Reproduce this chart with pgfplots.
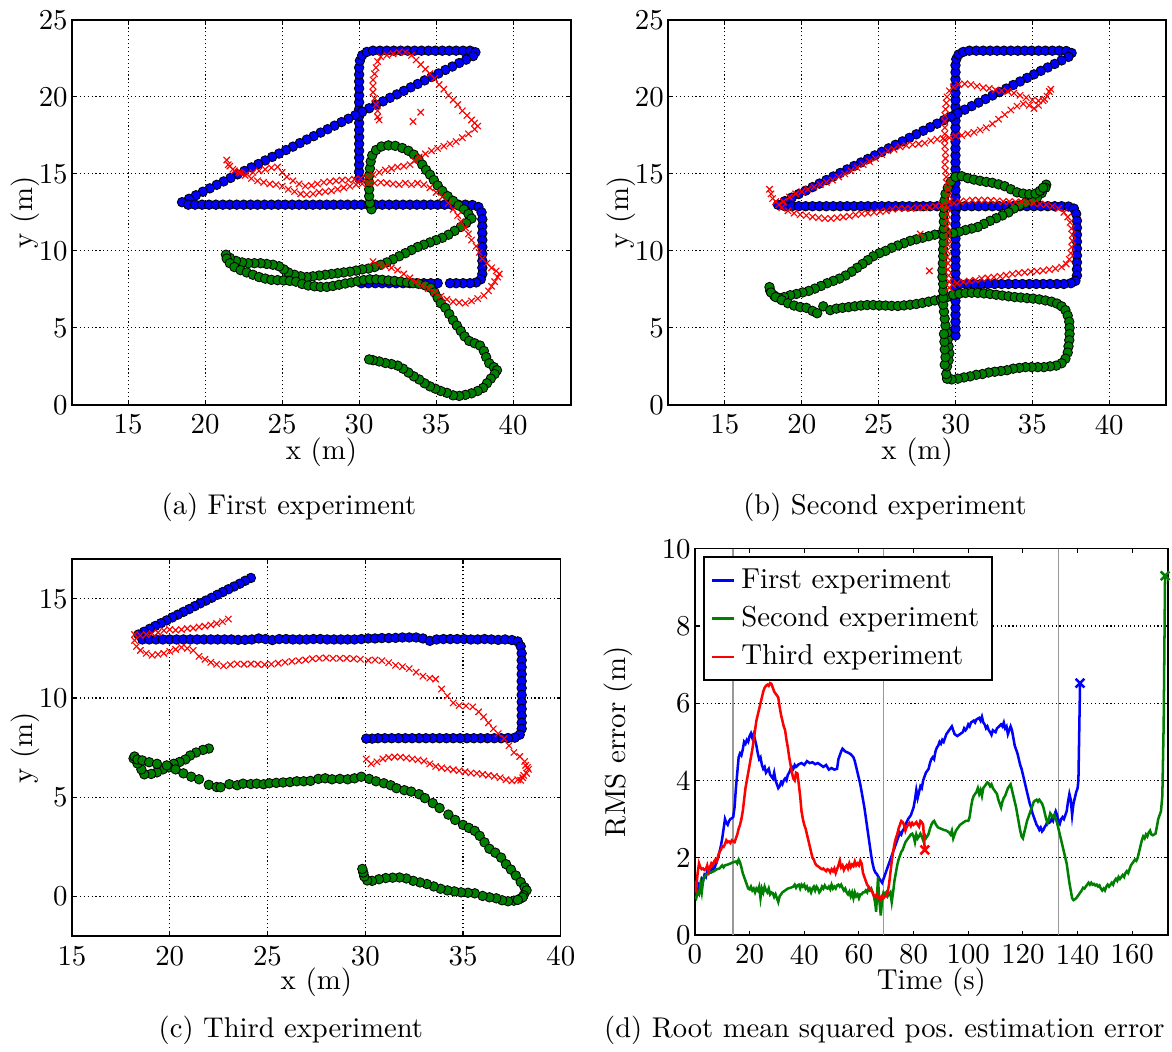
\documentclass[border=0pt]{standalone}
\usepackage{fontspec}
\usepackage{pgfplots}
\pgfplotsset{compat=1.18}
\definecolor{mblue}{RGB}{0,0,255}
\definecolor{mgreen}{RGB}{0,128,0}
\definecolor{mred}{RGB}{255,0,0}
\newcommand\fs{\fontsize{10.3pt}{12.4pt}\selectfont}
\newcommand\cs{\fontsize{10.2pt}{12.2pt}\selectfont}
\pgfplotsset{
  common/.style={
    scale only axis, enlargelimits=false, anchor=south west,
    /pgf/number format/assume math mode=true,
    grid style={densely dotted, black, line width=0.4pt},
    tick align=inside, major tick length=1.5pt,
    axis line style={line width=0.5pt}, tick style={black, line width=0.4pt},
    every tick label/.append style={font=\fs}, label style={font=\fs},
    yticklabel style={xshift=2pt},
    every axis x label/.style={at={(axis description cs:0.5,-0.123)}, anchor=center},
  },
  traj/.style={common, grid=major, xlabel={x (m)}, ylabel={y (m)},
    every axis y label/.style={at={(axis description cs:-0.094,0.5)}, rotate=90, anchor=center},
  },
  gt/.style={only marks, mark=*, mark size=1.7pt, mark options={fill=mblue, draw=black, line width=0.3pt}},
  gr/.style={only marks, mark=*, mark size=1.7pt, mark options={fill=mgreen, draw=black, line width=0.3pt}},
  rx/.style={only marks, mark=x, mark size=1.6pt, mark options={draw=mred, line width=0.4pt}},
}
\begin{document}
\begin{tikzpicture}[font=\fs]
\useasboundingbox (0,0) rectangle (418.6pt,-375.4pt);

% ---------- (a) first experiment
\begin{axis}[traj, at={(25.7pt,-144.6pt)}, width=178.2pt, height=137.5pt,
  xmin=11.35, xmax=43.75, ymin=0, ymax=25, xtick={15,20,...,40}, ytick={0,5,...,25}]
\addplot[gt] coordinates {
(30,14.7) (30,15.15) (30,15.6) (30,16.05) (30,16.5) (30,16.95) (30,17.4) (30,17.85) (30,18.3) (30,18.75) (30,19.2) (30,19.65) (30,20.1) (30,20.55) (30,21) (30,21.45) (30,21.9) (30.05,22.35) (30.2,22.7) (30.5,22.92) (30.9,23) (31.35,23) (31.8,23) (32.25,23) (32.7,23) (33.15,23) (33.6,23) (34.05,23) (34.5,23) (34.95,23) (35.4,23) (35.85,23) (36.3,23) (36.75,23) (37.2,23) (37.55,22.9)
(37.4,22.65) (36.95,22.42) (36.5,22.2) (36.05,21.97) (35.6,21.75) (35.15,21.52) (34.7,21.29) (34.25,21.07) (33.8,20.84) (33.35,20.62) (32.9,20.39) (32.45,20.16) (32,19.94) (31.55,19.71) (31.1,19.49) (30.65,19.26) (30.2,19.03) (29.75,18.81) (29.3,18.58) (28.85,18.36) (28.4,18.13) (27.95,17.9) (27.5,17.68) (27.05,17.45) (26.6,17.23) (26.15,17) (25.7,16.77) (25.25,16.55) (24.8,16.32) (24.35,16.1) (23.9,15.87) (23.45,15.64) (23,15.42) (22.55,15.19) (22.1,14.97) (21.65,14.74) (21.2,14.51) (20.75,14.29) (20.3,14.06) (19.85,13.84) (19.4,13.61) (18.95,13.38) (18.5,13.16)
(18.9,13) (19.35,13) (19.8,13) (20.25,13) (20.7,13) (21.15,13) (21.6,13) (22.05,13) (22.5,13) (22.95,13) (23.4,13) (23.85,13) (24.3,13) (24.75,13) (25.2,13) (25.65,13) (26.1,13) (26.55,13) (27,13) (27.45,13) (27.9,13) (28.35,13) (28.8,13) (29.25,13) (29.7,13) (30.15,13) (30.6,13) (31.05,13) (31.5,13) (31.95,13) (32.4,13) (32.85,13) (33.3,13) (33.75,13) (34.2,13) (34.65,13) (35.1,13) (35.55,13) (36,13) (36.45,13) (36.9,13) (37.35,12.98) (37.75,12.85) (37.95,12.5)
(38,12.05) (38,11.6) (38,11.15) (38,10.7) (38,10.25) (38,9.8) (38,9.35) (38,8.9) (38,8.5) (37.9,8.15) (37.6,7.95) (37.2,7.9) (36.75,7.9) (36.3,7.9) (35.9,7.9)
(35.1,7.9) (34.65,7.9) (34.2,7.9) (33.75,7.9) (33.3,7.9) (32.85,7.9) (32.4,7.9) (31.95,7.9) (31.5,7.9) (31.05,7.9) (30.6,7.9) (30.15,7.9)
};
\addplot[gr] coordinates {
(30.8,12.7) (30.7,13.1) (30.65,13.55) (30.65,14) (30.65,14.45) (30.65,14.9) (30.7,15.35) (30.75,15.8) (30.85,16.2) (31.1,16.55) (31.45,16.78) (31.9,16.85) (32.35,16.82) (32.8,16.68) (33.2,16.5) (33.55,16.25) (33.85,15.95) (34.1,15.6) (34.35,15.25) (34.6,14.95) (34.85,14.6) (35.1,14.25) (35.4,13.9) (35.75,13.55) (36.1,13.25) (36.45,12.95) (36.8,12.7) (37.1,12.4) (37.3,12.1)
(36.95,11.8) (36.6,11.55) (36.2,11.3) (35.8,11.05) (35.4,10.85) (35,10.7) (34.6,10.55) (34.2,10.4) (33.8,10.25) (33.4,10.05) (33,9.85) (32.6,9.65) (32.2,9.45) (31.8,9.25) (31.4,9.1) (31,8.95) (30.6,8.85) (30.2,8.8) (29.8,8.72) (29.4,8.65) (29,8.6) (28.6,8.55) (28.2,8.5) (27.8,8.45) (27.4,8.4) (27,8.35) (26.6,8.3) (26.2,8.35) (25.8,8.45) (25.4,8.6) (25.1,8.8) (24.8,9) (24.4,9.1) (24,9.15) (23.6,9.2) (23.2,9.2) (22.8,9.2) (22.4,9.25) (22,9.35) (21.6,9.55) (21.35,9.75)
(21.4,9.5) (21.6,9.2) (21.9,8.95) (22.3,8.75) (22.7,8.6) (23.1,8.45) (23.5,8.3) (23.9,8.2) (24.3,8.12) (24.7,8.1) (25.1,8.08) (25.5,8.05) (25.9,8) (26.3,7.85) (26.7,7.75) (27.1,7.7) (27.5,7.66) (27.9,7.66) (28.3,7.72) (28.7,7.8) (29.1,7.88) (29.5,7.95) (29.9,8.03) (30.3,8.1) (30.7,8.15) (31.1,8.15) (31.5,8.12) (31.9,8.08) (32.3,8.05) (32.7,8) (33.1,7.95) (33.5,7.9) (33.9,7.85) (34.3,7.75) (34.65,7.6) (34.9,7.3) (35.1,6.95) (35.3,6.6) (35.6,6.3) (35.85,5.9) (36.1,5.5) (36.35,5.15) (36.6,4.8) (36.85,4.45) (37.15,4.15) (37.5,4) (37.85,3.85) (38.1,3.5) (38.25,3.1) (38.45,2.7) (38.75,2.45) (38.95,2.25) (38.8,2) (38.55,1.7) (38.3,1.4) (38.05,1.1) (37.7,0.9) (37.3,0.75) (36.9,0.65) (36.5,0.58) (36.1,0.62) (35.7,0.78) (35.3,0.9) (34.95,1.05) (34.6,1.2) (34.25,1.4) (33.9,1.65) (33.55,1.85) (33.2,2.1) (32.85,2.35) (32.5,2.55) (32.1,2.65) (31.7,2.72) (31.3,2.82) (30.9,2.9) (30.65,2.95)
};
\addplot[rx] coordinates {
(30.9,9.3) (31.3,9.1) (31.7,9) (32.1,8.9) (32.5,8.75) (32.9,8.5) (33.3,8.25) (33.7,8) (34.1,7.75) (34.5,7.55) (34.9,7.3) (35.3,7.05) (35.7,6.85) (36.1,6.7) (36.5,6.65) (36.9,6.6) (37.3,6.75) (37.7,6.9) (38.1,7.1) (38.4,7.4) (38.6,7.7) (38.8,8) (39,8.3) (39.1,8.5) (38.9,8.7) (38.6,8.9) (38.3,9.2) (38,9.5) (37.8,9.9) (37.6,10.3) (37.3,10.7) (37.1,11.1) (36.9,11.5) (36.6,11.9) (36.4,12.3) (36.1,12.7) (35.8,13.1) (35.4,13.5) (35,13.8) (34.6,14.1) (34.2,14.3) (33.8,14.4) (33.4,14.3) (33,14.4) (32.6,14.3) (32.2,14.35) (31.8,14.4) (31.4,14.45) (31,14.4) (30.6,14.4) (30.2,14.35) (29.8,14.3) (29.4,14.2) (29,14.1) (28.6,14) (28.2,13.9) (27.8,13.85) (27.4,13.8) (27,13.7) (26.6,13.65) (26.2,13.7) (25.8,13.85) (25.4,14) (25,14.2) (24.6,14.3) (24.2,14.35) (23.8,14.45) (23.4,14.55) (23,14.7) (22.6,14.9) (22.2,15.1) (21.8,15.3) (21.5,15.6) (21.4,15.9) (21.6,15.5) (21.9,15.2) (22.3,15.05) (22.7,15) (23.1,15.1) (23.5,15.2) (23.9,15.3) (24.3,15.4) (24.7,15.45) (25,15.1) (25.3,14.8) (25.7,14.55) (26.1,14.35) (26.5,14.2) (26.9,14.25) (27.3,14.35) (27.7,14.45) (28.1,14.5) (28.5,14.55) (28.9,14.6) (29.3,14.6) (29.7,14.65) (30.1,14.7) (30.5,14.8) (30.9,14.95) (31.3,15.1) (31.7,15.25) (32.1,15.35) (32.5,15.45) (32.9,15.5) (33.3,15.6) (33.6,15.85) (33.9,16.1) (34.3,16.3) (34.7,16.5) (35.1,16.65) (35.5,16.8) (35.9,16.95) (36.3,17.1) (36.7,17.35) (37.1,17.6) (37.5,17.9) (37.7,18.1) (37.5,18.3) (37.3,18.5) (37,18.8) (36.7,19.1) (36.4,19.5) (36.1,19.8) (35.8,20.1) (35.5,20.5) (35.2,20.8) (34.9,21.2) (34.6,21.5) (34.3,21.8) (34,22.1) (33.7,22.4) (33.4,22.7) (33,22.9) (32.6,22.9) (32.2,22.8) (31.8,22.7) (31.4,22.6) (31.2,22.3) (31.1,21.9) (31,21.5) (30.9,21.1) (30.9,20.7) (30.9,20.3) (31,19.9) (31.1,19.5) (31.2,19.1) (31.2,18.7) (31.3,18.5) (33.5,18.4) (34,19)
};
\end{axis}

% ---------- (b) second experiment
\begin{axis}[traj, at={(238.6pt,-144.6pt)}, width=177.9pt, height=137.5pt,
  xmin=11.3, xmax=43.7, ymin=0, ymax=25, xtick={15,20,...,40}, ytick={0,5,...,25}]
\addplot[gt] coordinates {
(30,4.5) (30,4.95) (30,5.4) (30,5.85) (30,6.3) (30,6.75) (30,7.2) (30,7.65) (30,8.1) (30,8.55) (30,9) (30,9.45) (30,9.9) (30,10.35) (30,10.8) (30,11.25) (30,11.7) (30,12.15) (30,12.6) (30,13.05) (30,13.5) (30,13.95) (30,14.4) (30,14.85) (30,15.3) (30,15.75) (30,16.2) (30,16.65) (30,17.1) (30,17.55) (30,18) (30,18.45) (30,18.9) (30,19.35) (30,19.8) (30,20.25) (30,20.7) (30,21.15) (30,21.6) (30,22.05) (30.05,22.45) (30.2,22.75) (30.5,22.92) (30.9,23) (31.35,23) (31.8,23) (32.25,23) (32.7,23) (33.15,23) (33.6,23) (34.05,23) (34.5,23) (34.95,23) (35.4,23) (35.85,23) (36.3,23) (36.75,23) (37.2,22.98) (37.55,22.85)
(37.35,22.6) (36.9,22.37) (36.45,22.14) (36,21.91) (35.55,21.69) (35.1,21.46) (34.65,21.23) (34.2,21) (33.75,20.77) (33.3,20.54) (32.85,20.31) (32.4,20.09) (31.95,19.86) (31.5,19.63) (31.05,19.4) (30.6,19.17) (30.15,18.94) (29.7,18.71) (29.25,18.49) (28.8,18.26) (28.35,18.03) (27.9,17.8) (27.45,17.57) (27,17.34) (26.55,17.11) (26.1,16.89) (25.65,16.66) (25.2,16.43) (24.75,16.2) (24.3,15.97) (23.85,15.74) (23.4,15.51) (22.95,15.29) (22.5,15.06) (22.05,14.83) (21.6,14.6) (21.15,14.37) (20.7,14.14) (20.25,13.91) (19.8,13.69) (19.35,13.46) (18.9,13.23) (18.45,13)
(18.9,12.9) (19.35,12.9) (19.8,12.9) (20.25,12.9) (20.7,12.9) (21.15,12.9) (21.6,12.9) (22.05,12.9) (22.5,12.9) (22.95,12.9) (23.4,12.9) (23.85,12.9) (24.3,12.9) (24.75,12.9) (25.2,12.9) (25.65,12.9) (26.1,12.9) (26.55,12.9) (27,12.9) (27.45,12.9) (27.9,12.9) (28.35,12.9) (28.8,12.9) (29.25,12.9) (29.7,12.9) (30.15,12.9) (30.6,12.9) (31.05,12.9) (31.5,12.9) (31.95,12.9) (32.4,12.9) (32.85,12.9) (33.3,12.9) (33.75,12.9) (34.2,12.9) (34.65,12.9) (35.1,12.9) (35.55,12.9) (36,12.9) (36.45,12.9) (36.9,12.9) (37.35,12.88) (37.7,12.75) (37.85,12.4)
(37.9,11.95) (37.9,11.5) (37.9,11.05) (37.9,10.6) (37.9,10.15) (37.9,9.7) (37.9,9.25) (37.9,8.8) (37.9,8.4) (37.8,8.05) (37.5,7.9) (37.05,7.85) (36.6,7.85) (36.15,7.85) (35.7,7.85) (35.25,7.85) (34.8,7.85) (34.35,7.85) (33.9,7.85) (33.45,7.85) (33,7.85) (32.55,7.85) (32.1,7.85) (31.65,7.85) (31.2,7.85) (30.75,7.85) (30.3,7.85)
};
\addplot[gr] coordinates {
(35.9,14.3) (35.85,14.1) (35.6,13.75) (35.3,13.45) (34.95,13.25) (34.55,13.1) (34.15,12.95) (33.8,12.75) (33.45,12.5) (33.05,12.3) (32.65,12.12) (32.25,11.95) (31.85,11.75) (31.45,11.55) (31.05,11.45) (30.65,11.35) (30.25,11.25) (29.85,11.15) (29.45,11.12) (29.05,11.1) (28.65,11.05) (28.25,10.95) (27.85,10.85) (27.45,10.75) (27.05,10.65) (26.65,10.5) (26.25,10.35) (25.85,10.2) (25.45,10) (25.05,9.85) (24.65,9.65) (24.3,9.4) (23.95,9.15) (23.6,8.9) (23.25,8.65) (22.85,8.4) (22.45,8.2) (22.05,8.05) (21.65,7.9) (21.25,7.72) (20.85,7.55) (20.45,7.4) (20.05,7.3) (19.65,7.2) (19.25,7.12) (18.85,7) (18.5,6.95) (18.2,7.1) (17.95,7.4) (17.9,7.65)
(18,7.3) (18.3,7) (18.7,6.8) (19.1,6.6) (19.5,6.45) (19.9,6.35) (20.3,6.3) (20.7,6.1) (21,5.95) (21.4,6.4) (21.85,6.15) (22.25,6.25) (22.65,6.3) (23.05,6.35) (23.45,6.4) (23.85,6.45) (24.25,6.48) (24.65,6.48) (25.05,6.46) (25.45,6.45) (25.85,6.43) (26.25,6.42) (26.65,6.46) (27.05,6.5) (27.45,6.55) (27.85,6.62) (28.25,6.7) (28.65,6.78) (29.05,6.87) (29.45,7) (29.85,7.15) (30.25,7.22) (30.65,7.27) (31.05,7.28) (31.45,7.27) (31.85,7.24) (32.25,7.2) (32.65,7.15) (33.05,7.1) (33.45,7.05) (33.85,7) (34.25,6.97) (34.65,6.93) (35.05,6.9) (35.45,6.85) (35.85,6.78) (36.25,6.7) (36.6,6.58) (36.9,6.4) (37.15,6.15) (37.3,5.8) (37.4,5.4) (37.42,5) (37.42,4.6) (37.4,4.2) (37.35,3.8) (37.3,3.4) (37.15,3) (36.9,2.7) (36.55,2.55) (36.15,2.5) (35.75,2.45) (35.35,2.45) (34.95,2.45) (34.55,2.45) (34.15,2.4) (33.75,2.35) (33.35,2.25) (32.95,2.2) (32.55,2.15) (32.15,2.1) (31.75,2) (31.35,1.95) (30.95,1.85) (30.55,1.78) (30.15,1.7) (29.75,1.65) (29.45,1.7)
(29.4,2) (29.45,2.5) (29.55,2.9) (29.6,3.35) (29.55,3.8) (29.5,4.25) (29.45,4.7) (29.35,5.15) (29.3,5.6) (29.25,6.05) (29.2,6.5) (29.2,6.95) (29.2,7.4) (29.2,7.85) (29.15,8.3) (29.15,8.75) (29.18,9.2) (29.2,9.65) (29.2,10.1) (29.22,10.55) (29.24,11) (29.24,11.45) (29.24,11.9) (29.24,12.35) (29.25,12.8) (29.28,13.25) (29.35,13.7) (29.5,14.1) (29.7,14.5) (30,14.8) (30.4,14.85) (30.8,14.72) (31.2,14.63) (31.6,14.55) (32,14.48) (32.4,14.42) (32.8,14.32) (33.2,14.2) (33.6,14) (34,13.8) (34.4,13.72) (34.8,13.68) (35.2,13.72) (35.5,13.9) (35.7,14.1)
(29.3,2.6) (29.35,3.1) (29.3,3.6) (29.28,4.1) (29.25,4.6)
};
\addplot[rx] coordinates {
(17.9,14) (18,13.7) (18.1,13.4) (18.3,13.2) (18.5,13)
(18.8,13.2) (19.2,13.5) (19.6,13.7) (20,13.85) (20.4,14) (20.8,14.15) (21.2,14.3) (21.6,14.45) (22,14.6) (22.4,14.8) (22.8,15) (23.2,15.2) (23.6,15.4) (24,15.6) (24.4,15.8) (24.8,16) (25.2,16.25) (25.6,16.5) (26,16.6) (26.4,16.75) (26.8,16.85) (27.2,16.9) (27.6,16.95) (28,17) (28.4,17.15) (28.8,17.25) (29.2,17.3) (29.6,17.35) (30,17.45) (30.4,17.5) (30.8,17.6) (31.2,17.7) (31.6,17.85) (32,18) (32.4,18.25) (32.8,18.55) (33.2,18.85) (33.6,19.15) (34,19.4) (34.4,19.55) (34.8,19.45) (35.1,19.25) (35.4,19.45) (35.7,19.75) (35.95,20.05) (36.1,20.35) (36.2,20.5)
(35.8,19.85) (35.4,19.75) (35,19.8) (34.6,19.95) (34.2,20.1) (33.8,20.25) (33.4,20.35) (33,20.4) (32.6,20.45) (32.2,20.55) (31.8,20.6) (31.4,20.7) (31,20.8) (30.6,20.85) (30.2,20.8) (29.85,20.65) (29.6,20.4) (29.45,20)
(29.4,19.6) (29.35,19.2) (29.3,18.8) (29.3,18.4) (29.3,18) (29.3,17.6) (29.3,17.2) (29.3,16.8) (29.35,16.4) (29.35,16) (29.3,15.6) (29.35,15.2) (29.4,14.8) (29.45,14.4) (29.5,14) (29.55,13.6) (29.6,13.2) (29.5,12.8) (29.45,12.4) (29.45,12) (29.45,11.6) (29.5,11.2) (29.5,10.8) (29.5,10.4) (29.45,10) (29.45,9.6) (29.5,9.2) (29.5,8.8) (29.55,8.4) (29.6,8) (29.6,7.6)
(18.7,12.8) (19.1,12.6) (19.5,12.45) (19.9,12.35) (20.3,12.3) (20.7,12.2) (21.1,12.15) (21.5,12.1) (21.9,12.1) (22.3,12.15) (22.7,12.2) (23.1,12.25) (23.5,12.35) (23.9,12.4) (24.3,12.45) (24.7,12.5) (25.1,12.55) (25.5,12.6) (25.9,12.7) (26.3,12.75) (26.7,12.75) (27.1,12.75) (27.5,12.8) (27.9,12.8) (28.3,12.85) (28.7,12.9) (29.1,12.95) (29.9,13.1) (30.3,13.2) (30.7,13.25) (31.1,13.3) (31.5,13.3) (31.9,13.3) (32.3,13.28) (32.7,13.25) (33.1,13.2) (33.5,13.2) (33.9,13.18) (34.3,13.18) (34.7,13.15) (35.1,13.1) (35.5,13.05) (35.9,13) (36.3,12.9) (36.7,12.75) (37.05,12.5) (37.3,12.2) (37.45,11.85) (37.55,11.45) (37.6,11.05) (37.6,10.65) (37.55,10.25) (37.5,9.85) (37.4,9.45) (37.2,9.15) (36.9,8.95) (36.5,8.85) (36.1,8.78) (35.7,8.72) (35.3,8.68) (34.9,8.65) (34.5,8.6) (34.1,8.56) (33.7,8.5) (33.3,8.42) (32.9,8.35) (32.5,8.3) (32.1,8.25) (31.7,8.2) (31.3,8.1) (30.9,8.05) (30.5,7.98) (30.1,7.9) (29.8,7.8)
(27.7,11.1) (28.3,8.7)
};
\end{axis}

% ---------- (c) third experiment
\begin{axis}[traj, at={(25.7pt,-334.3pt)}, width=174.6pt, height=134.6pt,
  every axis y label/.style={at={(axis description cs:-0.096,0.5)}, rotate=90, anchor=center},
  xmin=15, xmax=40, ymin=-2, ymax=17, xtick={15,20,...,40}, ytick={0,5,10,15}]
\addplot[gt] coordinates {
(24.15,16.05) (23.86,15.91) (23.58,15.76) (23.29,15.62) (23,15.48) (22.71,15.34) (22.43,15.2) (22.14,15.05) (21.85,14.91) (21.56,14.77) (21.28,14.63) (20.99,14.48) (20.7,14.34) (20.41,14.2) (20.13,14.06) (19.84,13.91) (19.55,13.77) (19.26,13.63) (18.98,13.49) (18.69,13.34) (18.4,13.2)
(18.6,12.95) (18.95,12.95) (19.3,12.95) (19.65,12.95) (20,12.95) (20.35,12.95) (20.7,12.95) (21.05,12.95) (21.4,12.95) (21.75,12.95) (22.1,12.95) (22.45,12.95) (22.8,12.95) (23.15,12.95) (23.5,12.93) (23.85,12.93) (24.2,12.95) (24.55,13) (24.9,12.97) (25.25,12.92) (25.6,12.97) (25.95,12.97) (26.3,12.95) (26.65,12.95) (27,12.95) (27.35,12.97) (27.7,12.97) (28.05,12.95) (28.4,12.95) (28.75,12.95) (29.1,12.95) (29.45,12.95) (29.8,12.97) (30.15,13) (30.5,13) (30.85,13.02) (31.2,13.02) (31.55,13.03) (31.9,13.05) (32.25,13.05) (32.6,13.05) (32.95,13) (33.3,12.88) (33.65,12.95) (34,12.97) (34.35,12.97) (34.7,12.97) (35.05,12.97) (35.4,12.95) (35.75,12.95) (36.1,12.97) (36.45,12.95) (36.8,12.93) (37.15,12.95) (37.5,12.92)
(37.8,12.85) (37.95,12.6) (38,12.25) (38,11.9) (38,11.55) (38,11.2) (38,10.85) (38,10.5) (38,10.15) (38,9.8) (38,9.45) (38,9.1) (38,8.75) (38,8.45) (37.9,8.15) (37.65,8) (37.3,7.98)
(36.95,7.97) (36.6,7.97) (36.25,7.97) (35.9,7.97) (35.55,7.97) (35.2,7.97) (34.85,7.97) (34.5,7.97) (34.15,7.97) (33.8,7.97) (33.45,7.97) (33.1,7.97) (32.75,7.97) (32.4,7.97) (32.05,7.97) (31.7,7.97) (31.35,7.97) (31,7.97) (30.65,7.97) (30.35,7.95) (30.05,7.95)
};
\addplot[gr] coordinates {
(22,7.45) (21.7,7.38) (21.35,7.25) (21.05,7.1) (20.8,6.9) (20.5,6.77) (20.2,6.68) (19.95,6.5) (19.65,6.4) (19.35,6.25) (19.05,6.17) (18.7,6.15) (18.55,6.4) (18.35,6.7) (18.15,6.95) (18.2,7.05) (18.35,6.9) (18.6,6.85) (18.95,6.76) (19.35,6.68) (19.85,6.6) (20.3,6.4) (20.7,6.2) (21.1,6.03) (21.5,5.9) (22,5.62) (22.4,5.51) (22.6,5.5) (23.05,5.65) (23.45,5.6) (23.75,5.68) (24.15,5.66) (24.45,5.68) (24.8,5.65) (25.1,5.7) (25.45,5.72) (25.8,5.74) (26.15,5.76) (26.5,5.8) (26.85,5.8) (27.2,5.82) (27.6,5.92) (27.95,5.95) (28.3,5.9) (28.7,5.92) (29.1,5.9) (29.45,5.95) (29.8,6.03) (30.2,5.92) (30.55,5.8) (30.95,5.7) (31.3,5.6) (31.6,5.45) (32,5.35) (32.35,5.28) (32.75,5.15) (33.05,4.95) (33.45,4.7) (33.8,4.45) (34.25,4.12) (34.6,3.85) (35,3.6) (35.3,3.45) (35.6,3.3) (35.85,3.05) (36.1,2.72) (36.35,2.4) (36.65,2.2) (36.95,1.95) (37.2,1.62) (37.45,1.35) (37.7,1.05) (37.95,0.72) (38.15,0.45) (38.25,0.3) (38.1,0.05) (37.9,-0.13) (37.6,-0.22) (37.3,-0.25) (37,-0.2) (36.7,-0.1) (36.35,-0.05) (36,0.02) (35.6,0.15) (35.25,0.18) (34.9,0.2) (34.55,0.25) (34.2,0.3) (33.85,0.38) (33.5,0.5) (33.15,0.62) (32.8,0.7) (32.45,0.78) (32.1,0.9) (31.75,0.95) (31.4,0.94) (31.05,0.92) (30.7,0.86) (30.35,0.78) (30.1,0.8) (29.95,1) (29.9,1.2) (29.85,1.38)
(38.05,-0.05) (37.8,-0.18)
};
\addplot[rx] coordinates {
(18.2,13.2) (18.5,13.15) (18.8,13.2) (19.1,13.25) (19.4,13.3) (19.7,13.4) (20,13.45) (20.3,13.42) (20.6,13.45) (20.9,13.5) (21.2,13.52) (21.5,13.58) (21.8,13.62) (22.1,13.68) (22.4,13.75) (22.7,13.85) (23,13.98)
(18.2,12.9) (18.3,12.6) (18.5,12.4) (18.8,12.25) (19.1,12.15) (19.4,12.2) (19.7,12.25) (20,12.35) (20.3,12.45) (20.6,12.55) (20.9,12.5) (21.2,12.4) (21.5,12.1) (21.8,11.95) (22.1,11.8) (22.4,11.7) (22.75,11.62) (23.1,11.68) (23.45,11.72) (23.8,11.7) (24.15,11.72) (24.5,11.7) (24.85,11.68) (25.2,11.7) (25.55,11.75) (25.9,11.8) (26.25,11.85) (26.6,11.88) (26.95,11.92) (27.3,11.98) (27.65,12) (28,12.02) (28.35,12) (28.7,12) (29.05,12) (29.4,11.98) (29.75,11.95) (30.15,11.9) (30.5,11.92) (30.85,11.88) (31.2,11.78) (31.55,11.65) (31.9,11.58) (32.25,11.48) (32.6,11.3) (32.95,11.1) (33.3,11) (33.6,10.95) (33.9,10.45) (34.2,10.1) (34.5,9.75) (34.8,9.62) (35.15,9.6) (35.5,9.55) (35.8,9.3) (36.05,9.05) (36.3,8.75) (36.55,8.45) (36.8,8.2) (37.1,7.95) (37.35,7.6) (37.6,7.25) (37.9,7.05) (38.15,6.8) (38.3,6.5) (38.25,6.2) (38.05,5.98) (37.8,5.88) (37.5,5.82) (37.2,5.88) (36.9,5.98) (36.6,6.05) (36.3,6.1) (36,6.15) (35.7,6.2) (35.4,6.22) (35.1,6.28) (34.8,6.33) (34.5,6.38) (34.2,6.43) (33.9,6.48) (33.6,6.55) (33.3,6.68) (33,6.82) (32.7,6.88) (32.4,6.93) (32.1,6.98) (31.8,7.02) (31.5,7.03) (31.2,7) (30.9,6.93) (30.6,6.78) (30.3,6.68) (30.05,6.92)
(38.35,6.4) (38.2,6.6) (38.1,6.1) (37.95,5.85)
};
\end{axis}

% ---------- (d) RMS error
\begin{axis}[common, at={(248.2pt,-333.9pt)}, width=168.9pt, height=137.9pt,
  xmin=0, xmax=173, ymin=0, ymax=10, xtick={0,20,...,160}, ytick={0,2,...,10},
  ymajorgrids, xlabel={Time (s)}, ylabel={RMS error (m)},
  every axis y label/.style={at={(axis description cs:-0.163,0.5)}, rotate=90, anchor=center},
  legend style={at={(axis cs:3,9.8)}, anchor=north west, draw=black, line width=0.5pt,
    font=\fs, cells={anchor=west}, row sep=1pt, inner xsep=2.5pt, inner ysep=2pt},
  legend image code/.code={\draw[#1] (0pt,0pt) -- (8pt,0pt);},
]
\addplot[black!40, line width=0.5pt, forget plot] coordinates {(14,0) (14,10)};
\addplot[black!40, line width=0.5pt, forget plot] coordinates {(69,0) (69,10)};
\addplot[black!40, line width=0.5pt, forget plot] coordinates {(133,0) (133,10)};
\addplot[mblue, line width=0.9pt] coordinates {
(0,1.2) (0.5,1.05) (1,1.1) (1.5,1.3) (2,1.25) (2.5,1.45) (3,1.4) (3.5,1.55) (4,1.5) (4.5,1.65) (5,1.6) (5.5,1.7) (6,1.65) (6.5,1.75) (7,1.7) (7.5,1.8) (8,1.9) (8.5,2) (9,2.15) (9.5,2.3) (10,2.5) (10.5,2.75) (11,3) (11.5,2.9) (12,2.85) (12.5,2.95) (13,3) (13.5,3.02) (14,3.05) (14.5,3.3) (15,3.8) (15.5,4.2) (16,4.6) (16.5,4.7) (17,4.65) (17.5,4.8) (18,5) (18.5,4.95) (19,5.05) (19.5,5) (20,5.15) (20.5,5.22) (21,5.1) (21.5,5.2) (22,5.05) (22.5,4.9) (23,4.7) (23.5,4.55) (24,4.6) (24.5,4.4) (25,4.3) (25.5,4.35) (26,4.2) (26.5,4.25) (27,4.3) (27.5,4.15) (28,4.1) (28.5,4.05) (29,4.2) (29.5,4) (30,3.9) (30.5,3.8) (31,3.85) (31.5,3.95) (32,3.9) (32.5,4) (33,4.05) (33.5,4) (34,4.15) (34.5,4.2) (35,4.3) (35.5,4.35) (36,4.3) (36.5,4.4) (37,4.35) (38,4.42) (39,4.45) (40,4.4) (41,4.5) (42,4.45) (43,4.47) (44,4.42) (45,4.45) (46,4.4) (47,4.35) (48,4.4) (49,4.28) (50,4.32) (51,4.28) (52,4.3) (52.5,4.55) (53,4.65) (53.5,4.75) (54,4.82) (55,4.75) (56,4.72) (57,4.68) (58,4.6) (58.5,4.5) (59,4.35) (59.5,4.2) (60,4.05) (60.5,3.9) (61,3.7) (61.5,3.5) (62,3.3) (62.5,3.05) (63,2.8) (63.5,2.55) (64,2.3) (64.5,2.05) (65,1.85) (65.5,1.7) (66,1.62) (66.5,1.58) (67,1.52) (67.5,1.45) (68,1.4) (68.5,1.35) (69,1.45) (69.5,1.55) (70,1.65) (70.5,1.75) (71,1.85) (71.5,1.95) (72,2.05) (72.5,2.15) (73,2.25) (73.5,2.35) (74,2.45) (74.5,2.55) (75,2.65) (75.5,2.6) (76,2.7) (76.5,2.75) (77,2.85) (78,3) (78.5,3.05) (79,3.1) (79.5,3.2) (80,3.3) (80.5,3.5) (81,3.75) (81.5,3.55) (82,3.7) (82.5,3.85) (83,3.8) (83.5,4) (84,4.1) (84.5,4.2) (85,4.25) (85.5,4.3) (86,4.45) (86.5,4.55) (87,4.6) (87.5,4.55) (88,4.75) (88.5,4.85) (89,4.9) (89.5,5) (90,4.95) (90.5,5.05) (91,5) (91.5,5.1) (92,5.2) (92.5,5.25) (93,5.3) (93.5,5.35) (94,5.4) (94.5,5.3) (95,5.2) (96,5.15) (97,5.2) (98,5.25) (98.5,5.35) (99,5.3) (99.5,5.35) (100,5.45) (100.5,5.4) (101,5.5) (102,5.55) (102.5,5.5) (103,5.58) (104,5.62) (104.5,5.55) (105,5.65) (105.5,5.5) (106,5.45) (106.5,5.35) (107,5.4) (107.5,5.3) (108,5.25) (108.5,5.18) (109,5.3) (110,5.25) (110.5,5.35) (111,5.38) (112,5.45) (112.5,5.4) (113,5.5) (113.5,5.35) (114,5.4) (114.5,5.2) (115,5.3) (115.5,5.4) (116,5.3) (116.5,5.1) (117,4.9) (117.5,4.8) (118,4.7) (118.5,4.55) (119,4.4) (119.5,4.3) (120,4.15) (120.5,4) (121,3.85) (121.5,3.7) (122,3.55) (122.5,3.4) (123,3.3) (123.5,3.15) (124,3.05) (124.5,2.95) (125,2.85) (125.5,2.8) (126,2.72) (126.5,2.78) (127,2.68) (127.5,2.72) (128,2.8) (128.5,2.85) (129,2.95) (129.5,2.9) (130,2.92) (130.5,3) (131,2.95) (131.5,3.1) (132,3.2) (132.5,3.1) (133,2.95) (133.5,2.88) (134,3) (134.5,3.05) (135,3) (135.5,3.1) (136,3.2) (136.5,3.45) (137,3.65) (137.5,3.5) (138,3.1) (138.5,3.4) (139,3.55) (139.5,3.7) (140,3.8) (140.3,4) (140.9,6.52)
};
\addlegendentry{First experiment}
\addplot[mgreen, line width=0.9pt] coordinates {
(0,1) (0.5,0.95) (1,1.1) (1.5,1.05) (2,1.3) (2.5,1.1) (3,1.4) (3.5,1.5) (4,1.55) (5,1.6) (6,1.62) (7,1.65) (8,1.7) (9,1.72) (10,1.8) (10.5,1.75) (11,1.8) (12,1.82) (13,1.85) (14,1.88) (15,1.9) (15.5,1.85) (16,1.95) (16.5,1.88) (17,1.75) (17.5,1.6) (18,1.5) (18.5,1.4) (19,1.3) (19.5,1.2) (20,1.18) (20.5,1.25) (21,1.15) (21.5,1.2) (22,1.1) (22.5,1.2) (23,1.15) (23.5,1.25) (24,0.95) (24.5,1.2) (25,1.1) (25.5,1.25) (26,1.15) (26.5,1.1) (27,1.2) (27.5,1.05) (28,1.1) (28.5,1.08) (29,0.98) (29.5,1.05) (30,0.95) (30.5,0.85) (31,1) (31.5,1.05) (32,1.1) (33,1.15) (34,1.2) (35,1.22) (36,1.25) (36.5,1.3) (37,1.22) (37.5,1.28) (38,1.3) (38.5,1.2) (39,1.3) (39.5,1.25) (40,1.3) (40.5,1.2) (41,1.25) (41.5,1.15) (42,1.2) (42.5,1.1) (43,1.2) (43.5,1.25) (44,1.15) (44.5,1.25) (45,1.2) (45.5,1.1) (46,1.15) (46.5,1.25) (47,1.2) (47.5,1.28) (48,1.22) (48.5,1.2) (49,1.25) (49.5,1.18) (50,1.3) (50.5,1.2) (51,1.25) (51.5,1.2) (52,1.28) (52.5,1.3) (53,1.25) (53.5,1.3) (54,1.22) (54.5,1.15) (55,1.2) (55.5,1.1) (56,1.05) (56.5,1.12) (57,1) (57.5,1.1) (58,0.95) (58.5,1.1) (59,1) (59.5,1.05) (60,0.95) (60.5,1.05) (61,1.05) (61.5,1.1) (62,1.1) (62.5,1.15) (63,1.1) (63.5,1.2) (64,1.15) (64.5,1.2) (65,1.1) (65.5,1) (66,0.8) (66.3,0.6) (66.6,1) (67,1.5) (67.3,1) (67.6,0.8) (68,0.5) (68.3,0.75) (68.6,1) (69,1.1) (69.5,1.05) (70,1.1) (70.5,1) (71,1.05) (71.5,1.1) (72,0.85) (72.5,1.1) (73,1.4) (73.5,1.6) (74,1.8) (74.5,1.95) (75,2.05) (75.5,2.15) (76,2.2) (76.5,2.3) (77,2.4) (77.5,2.45) (78,2.5) (78.5,2.55) (79,2.6) (79.5,2.62) (80,2.55) (80.5,2.4) (81,2.6) (81.5,2.5) (82,2.55) (82.5,2.62) (83,2.55) (83.5,2.45) (84,2.6) (84.5,2.5) (85,2.55) (85.5,2.62) (86,2.75) (86.5,2.85) (87,2.92) (87.5,2.95) (88,2.88) (88.5,2.82) (89,2.78) (90,2.75) (91,2.72) (92,2.7) (93,2.65) (93.5,2.6) (94,2.7) (94.5,2.5) (95,2.6) (95.5,2.7) (96,2.75) (97,2.85) (98,2.9) (99,2.95) (100,2.95) (100.5,3.05) (101,3.3) (101.5,3.5) (102,3.6) (103,3.7) (103.5,3.8) (104,3.65) (104.5,3.75) (105,3.6) (105.5,3.8) (106,3.85) (106.5,3.9) (107,3.95) (107.5,3.92) (108,3.85) (108.5,3.9) (109,3.8) (109.5,3.75) (110,3.7) (110.5,3.65) (111,3.5) (111.5,3.4) (112,3.3) (112.5,3.45) (113,3.55) (113.5,3.6) (114,3.7) (114.5,3.8) (115,3.85) (115.5,3.9) (116,3.75) (116.5,3.6) (117,3.45) (117.5,3.3) (118,3.1) (118.5,2.9) (119,2.7) (119.5,2.55) (120,2.5) (120.5,2.65) (121,2.8) (121.5,2.95) (122,3.05) (122.5,3.15) (123,3.25) (123.5,3.35) (124,3.45) (124.5,3.48) (125,3.5) (125.5,3.45) (126,3.5) (126.5,3.45) (127,3.4) (127.5,3.3) (128,3.15) (128.5,3) (129,2.9) (129.5,3) (130,3.15) (130.5,3.1) (131,3.05) (131.5,3.1) (132,3) (132.5,2.9) (133,2.75) (133.5,2.6) (134,2.45) (134.5,2.3) (135,2.15) (135.5,2) (136,1.85) (136.5,1.6) (137,1.35) (137.5,1.15) (138,0.95) (138.5,0.9) (139,0.92) (139.5,0.95) (140,1) (140.5,1.05) (141,1.1) (141.5,1.15) (142,1.22) (142.5,1.2) (143,1.25) (143.5,1.3) (144,1.35) (144.5,1.3) (145,1.35) (145.5,1.3) (146,1.32) (146.5,1.28) (147,1.3) (147.5,1.25) (148,1.28) (148.5,1.2) (149,1.15) (149.5,1.2) (150,1.15) (150.5,1.25) (151,1.3) (151.5,1.25) (152,1.3) (152.5,1.35) (153,1.3) (153.5,1.4) (154,1.45) (154.5,1.4) (155,1.5) (155.5,1.45) (156,1.5) (156.5,1.55) (157,1.5) (157.5,1.6) (158,1.65) (158.5,1.6) (159,1.7) (159.5,1.8) (160,1.85) (160.5,1.9) (161,1.95) (161.5,1.92) (162,2) (162.5,2.15) (163,2.3) (163.5,2.45) (164,2.55) (164.5,2.5) (165,2.6) (165.5,2.55) (166,2.65) (166.5,2.7) (167,2.6) (167.5,2.58) (168,2.6) (168.5,2.62) (169,2.8) (169.5,3) (170,3.1) (170.5,3.2) (171,3.6) (171.5,5.5) (172,9.3)
};
\addlegendentry{Second experiment}
\addplot[mred, line width=0.9pt] coordinates {
(0,1.4) (0.3,1.1) (0.6,1.3) (1,1.6) (1.5,1.85) (2,1.75) (2.5,1.7) (3,1.72) (3.5,1.68) (4,1.7) (4.5,1.8) (5,1.65) (5.5,1.75) (6,1.85) (6.5,1.8) (7,1.9) (7.5,1.95) (8,1.9) (8.5,2.05) (9,2.15) (9.5,2.2) (10,2.3) (10.5,2.28) (11,2.35) (11.5,2.45) (12,2.4) (12.5,2.42) (13,2.38) (13.5,2.45) (14,2.42) (14.5,2.4) (15,2.5) (15.5,2.6) (16,2.75) (16.5,2.85) (17,3) (17.5,3.2) (18,3.5) (18.5,3.8) (19,4) (19.5,4.2) (20,4.4) (20.5,4.6) (21,4.8) (21.5,5.05) (22,5.3) (22.5,5.55) (23,5.7) (23.5,5.85) (24,6) (24.5,6.15) (25,6.3) (25.5,6.4) (26,6.45) (26.5,6.48) (27,6.45) (27.5,6.52) (28,6.5) (28.5,6.4) (29,6.3) (29.5,6.25) (30,6.2) (30.5,6.15) (31,5.9) (31.5,5.7) (32,5.55) (32.5,5.4) (33,5.3) (33.5,5.05) (34,4.85) (34.5,4.6) (35,4.4) (35.5,4.2) (36,4.05) (36.5,4) (37,4.2) (37.5,4.18) (38,3.9) (38.5,3.6) (39,3.2) (39.5,3) (40,2.85) (40.5,2.75) (41,2.6) (41.5,2.45) (42,2.3) (42.5,2.15) (43,2) (43.5,1.95) (44,1.85) (44.5,1.8) (45,1.78) (45.5,1.75) (46,1.72) (46.5,1.7) (47,1.72) (47.5,1.68) (48,1.65) (48.5,1.7) (49,1.68) (49.5,1.62) (50,1.7) (50.5,1.65) (51,1.72) (51.5,1.6) (52,1.7) (52.5,1.8) (53,1.92) (53.5,1.75) (54,1.8) (54.5,1.68) (55,1.75) (55.5,1.8) (56,1.72) (56.5,1.85) (57,1.75) (57.5,1.82) (58,1.78) (58.5,1.9) (59,1.8) (59.5,1.85) (60,1.8) (60.5,1.92) (61,1.85) (61.5,1.6) (62,1.5) (62.5,1.4) (63,1.3) (63.5,1.25) (64,1.2) (64.5,1.15) (65,1.1) (65.5,1) (66,0.98) (66.5,1.05) (67,0.95) (67.5,1) (68,0.92) (68.5,1) (69,0.95) (69.5,1) (70,1) (70.5,1.1) (71,1.3) (71.5,1.6) (72,1.9) (72.5,2.15) (73,2.35) (73.5,2.5) (74,2.6) (74.5,2.75) (75,2.85) (75.5,2.95) (76,2.92) (76.5,2.85) (77,2.7) (77.5,2.8) (78,2.85) (78.5,2.9) (79,2.82) (79.5,2.9) (80,2.85) (80.5,2.88) (81,2.92) (81.5,2.85) (82,2.8) (82.5,2.95) (83,2.92) (83.5,2.85) (84.1,2.2)
};
\addlegendentry{Third experiment}
\addplot[mblue, only marks, mark=x, mark size=2.2pt, mark options={line width=0.9pt}, forget plot] coordinates {(140.9,6.52)};
\addplot[mgreen, only marks, mark=x, mark size=2.2pt, mark options={line width=0.9pt}, forget plot] coordinates {(172,9.3)};
\addplot[mred, only marks, mark=x, mark size=2.2pt, mark options={line width=0.9pt}, forget plot] coordinates {(84.1,2.2)};
\end{axis}

\node[font=\cs] at (103.2pt,-181.1pt) {(a) First experiment};
\node[font=\cs] at (316.1pt,-181.1pt) {(b) Second experiment};
\node[font=\cs] at (103.9pt,-367.9pt) {(c) Third experiment};
\node[font=\cs] at (315.9pt,-367.9pt) {(d) Root mean squared pos.\ estimation error};
\end{tikzpicture}
\end{document}
